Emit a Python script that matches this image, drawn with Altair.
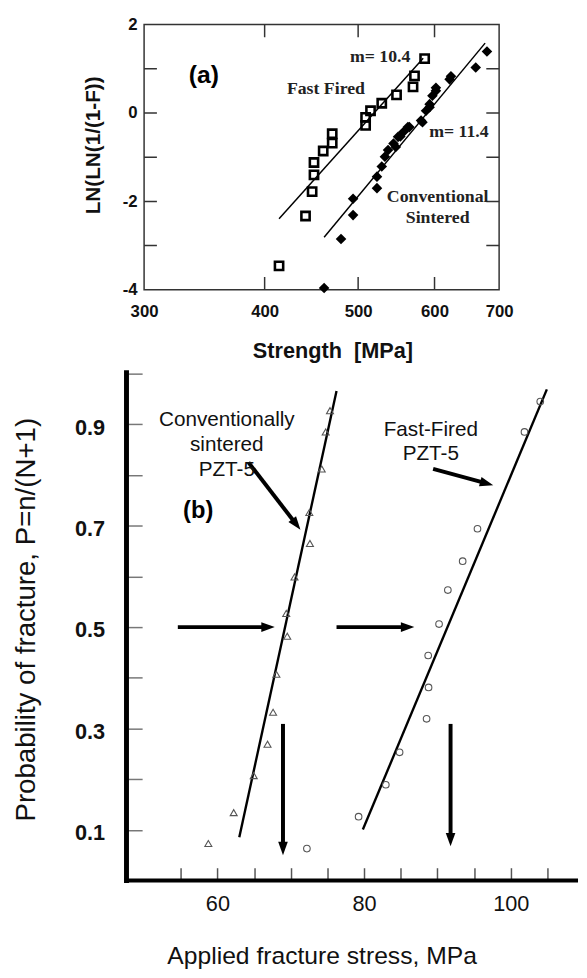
import math
import altair as alt
import pandas as pd

SANS = "Liberation Sans"
SERIF = "Liberation Serif"

# ---------------- Panel (a): Weibull plot ----------------
ff_strength = [414, 441, 448, 450, 450, 460, 470, 470, 509, 509, 515, 529, 548, 570, 572, 586]
ff_lnln = [-3.46, -2.33, -1.78, -1.40, -1.12, -0.86, -0.68, -0.47, -0.28, -0.10, 0.05, 0.22, 0.41, 0.59, 0.84, 1.23]

cs_strength = [461, 480, 494, 494, 523, 523, 529, 533, 537, 544, 547, 550, 553, 557, 563, 565,
               581, 583, 588, 593, 593, 597, 602, 602, 622, 624, 662, 680]
cs_lnln = [-3.96, -2.85, -2.31, -1.94, -1.70, -1.44, -1.21, -0.99, -0.84, -0.69, -0.77, -0.54, -0.53, -0.43,
           -0.32, -0.32, -0.17, -0.21, 0.05, 0.20, 0.13, 0.39, 0.57, 0.50, 0.76, 0.83, 1.03, 1.39]

fit_a_series = ["ff", "ff", "cs", "cs"]
fit_a_strength = [414, 584, 461, 677]
fit_a_lnln = [-2.39, 1.24, -2.81, 1.58]

a_label_text = ["m= 10.4", "Fast Fired", "m= 11.4", "Conventional\nSintered"]
a_label_s = [527, 463, 636, 604.5]
a_label_y = [1.257, 0.534, -0.431, -1.90]

a_tag_s = [346]
a_tag_y = [0.862]

a_x_values = [300, 400, 500, 600, 700]
a_y_values = [-4, -2, 0, 2]
a_xticks = [400, 500, 600]
a_yticks = [-3, -2, -1, 0, 1]
A_XDOM = [300, 700]
A_YDOM = [-4, 2]

# ---------------- Panel (b): probability plot ----------------
tri_x = [75.35, 74.76, 74.22, 72.53, 72.61, 70.51, 69.38, 69.52, 68.04, 67.59, 66.83, 64.95, 62.22, 58.76]
tri_p = [0.927, 0.885, 0.812, 0.726, 0.665, 0.599, 0.527, 0.482, 0.407, 0.332, 0.269, 0.207, 0.134, 0.073]
circ_x = [104.02, 101.87, 95.46, 93.44, 91.42, 90.22, 88.74, 88.79, 88.52, 84.84, 82.96, 79.25, 72.20]
circ_p = [0.945, 0.885, 0.694, 0.630, 0.573, 0.506, 0.444, 0.381, 0.319, 0.253, 0.189, 0.126, 0.063]

fit_b_series = ["cs", "cs", "ff", "ff"]
fit_b_x = [62.98, 76.24, 79.83, 104.92]
fit_b_p = [0.0856, 0.966, 0.1006, 0.969]

arrow_x0 = [64.23, 89.41, 54.6, 76.24, 68.94, 91.79]
arrow_p0 = [0.825, 0.812, 0.5, 0.5, 0.309, 0.309]
arrow_x1 = [71.32, 97.61, 67.82, 86.85, 68.94, 91.79]
arrow_p1 = [0.692, 0.780, 0.5, 0.5, 0.05, 0.0675]

b_label_text = ["Conventionally\nsintered\nPZT-5", "Fast-Fired\nPZT-5"]
b_label_x = [61.28, 89.1]
b_label_p = [0.908, 0.889]
b_tag_x = [57.38]
b_tag_p = [0.728]

b_x_values = [55, 60, 65, 70, 75, 80, 85, 90, 95, 100, 105]
b_y_values = [0.1, 0.2, 0.3, 0.4, 0.5, 0.6, 0.7, 0.8, 0.9, 1.0]
b_axis_x = 47.6
B_XDOM = [50, 108.9]
B_YDOM = [0.0253, 1.0]

A_W, A_H = 360, 269
B_W, B_H = 438, 501

# ======================= Panel (a) =======================
xa_scale = alt.Scale(type="log", domain=A_XDOM, nice=False, zero=False)
ya_scale = alt.Scale(domain=A_YDOM, nice=False, zero=False)

xa = alt.X("s:Q", scale=xa_scale, axis=alt.Axis(
    values=a_x_values, labelExpr="'' + datum.value", labelFlush=False, ticks=False, tickSize=0,
    domain=False, grid=False,
    labelFont=SANS, labelFontSize=17, labelFontWeight="bold", labelColor="#111", labelPadding=14,
    title="Strength\u00a0\u00a0[MPa]", titleFont=SANS, titleFontSize=22, titleFontWeight="bold",
    titleColor="#111", titleX=191, titleY=62, titleAlign="center", titleBaseline="middle"))
ya = alt.Y("y:Q", scale=ya_scale, axis=alt.Axis(
    values=a_y_values, labelExpr="'' + datum.value", labelFlush=False, ticks=False, tickSize=0,
    domain=False, grid=False,
    labelFont=SANS, labelFontSize=17, labelFontWeight="bold", labelColor="#111", labelPadding=7,
    title="LN(LN(1/(1-F))", titleFont=SANS, titleFontSize=21, titleFontWeight="bold", titleColor="#111",
    titleX=-51, titleY=122, titleAlign="center", titleBaseline="middle"))

df_ff = pd.DataFrame({"s": ff_strength, "y": ff_lnln})
df_cs = pd.DataFrame({"s": cs_strength, "y": cs_lnln})
df_fit_a = pd.DataFrame({"series": fit_a_series, "s": fit_a_strength, "y": fit_a_lnln})
df_a_lab = pd.DataFrame({"s": a_label_s, "y": a_label_y, "text": a_label_text})
df_a_tag = pd.DataFrame({"s": a_tag_s, "y": a_tag_y, "text": ["(a)"]})
df_a_vt = pd.DataFrame({"s": a_xticks * 2, "y": [A_YDOM[0]] * len(a_xticks) + [A_YDOM[1]] * len(a_xticks)})
df_a_ht = pd.DataFrame({"s": [A_XDOM[0]] * len(a_yticks) + [A_XDOM[1]] * len(a_yticks), "y": a_yticks * 2})

a_fit = alt.Chart(df_fit_a).mark_line(color="black", strokeWidth=1.5).encode(x=xa, y=ya, detail="series:N")
a_ff = alt.Chart(df_ff).mark_point(shape="square", filled=False, size=70, strokeWidth=2.6,
                                   color="black", opacity=1).encode(x=xa, y=ya)
a_cs = alt.Chart(df_cs).mark_point(shape="diamond", filled=True, size=115,
                                   color="black", opacity=1).encode(x=xa, y=ya)
a_vt = alt.Chart(df_a_vt).mark_tick(orient="vertical", size=26, thickness=1.5, color="#333",
                                    clip=True, opacity=1).encode(x=xa, y=ya)
a_ht = alt.Chart(df_a_ht).mark_tick(orient="horizontal", size=26, thickness=1.5, color="#333",
                                    clip=True, opacity=1).encode(x=xa, y=ya)
a_lab = alt.Chart(df_a_lab).mark_text(font=SERIF, fontSize=18, fontWeight="bold", color="#222",
                                      lineBreak="\n", lineHeight=21, align="center",
                                      baseline="middle").encode(x=xa, y=ya, text="text:N")
a_tag = alt.Chart(df_a_tag).mark_text(font=SANS, fontSize=25, fontWeight="bold", color="black",
                                      align="center", baseline="middle").encode(x=xa, y=ya, text="text:N")

panel_a = alt.layer(a_vt, a_ht, a_fit, a_ff, a_cs, a_lab, a_tag).properties(
    width=A_W, height=A_H, view=alt.ViewBackground(stroke="#333", strokeWidth=1.5))

# ======================= Panel (b) =======================
xb_scale = alt.Scale(domain=B_XDOM, nice=False, zero=False)
yb_scale = alt.Scale(domain=B_YDOM, nice=False, zero=False)

xb = alt.X("x:Q", scale=xb_scale, axis=alt.Axis(
    values=b_x_values, labelExpr="datum.value % 20 == 0 ? datum.label : ''", labelFlush=False,
    tickSize=13, tickWidth=1.5, tickColor="#555", domain=False, grid=False,
    labelFont=SANS, labelFontSize=22, labelColor="#111", labelPadding=13,
    title="Applied fracture stress, MPa", titleFont=SANS, titleFontSize=25, titleFontWeight="normal",
    titleColor="#111", titleX=180, titleY=89, titleAlign="center", titleBaseline="middle"))
yb = alt.Y("p:Q", scale=yb_scale, axis=alt.Axis(
    values=b_y_values, format=".1f", labelExpr="round(datum.value * 10) % 2 == 1 ? datum.label : ''",
    labelFlush=False, offset=2, tickSize=16, tickWidth=1.5, tickColor="#777", domain=False, grid=False,
    labelFont=SANS, labelFontSize=22, labelFontWeight="bold", labelColor="#111", labelPadding=22,
    labelOffset=3,
    title="Probability of fracture, P=n/(N+1)", titleFont=SANS, titleFontSize=28, titleFontWeight="normal",
    titleColor="#111", titleX=-117, titleY=249, titleAlign="center", titleBaseline="middle"))

kx = B_W / (B_XDOM[1] - B_XDOM[0])
ky = B_H / (B_YDOM[1] - B_YDOM[0])
shafts, heads = [], []
for x0, p0, x1, p1 in zip(arrow_x0, arrow_p0, arrow_x1, arrow_p1):
    sx, sy = (x1 - x0) * kx, (p1 - p0) * ky
    L = math.hypot(sx, sy)
    back = 9.0
    shafts.append({"x": x0, "p": p0, "x2": x1 - sx / L * back / kx, "p2": p1 - sy / L * back / ky})
    heads.append({"x": x1, "p": p1, "ang": (math.degrees(math.atan2(sx, sy)) + 360) % 360})
df_shafts = pd.DataFrame(shafts)
df_heads = pd.DataFrame(heads)

df_tri = pd.DataFrame({"x": tri_x, "p": tri_p})
df_circ = pd.DataFrame({"x": circ_x, "p": circ_p})
df_fit_b = pd.DataFrame({"series": fit_b_series, "x": fit_b_x, "p": fit_b_p})
df_b_lab = pd.DataFrame({"x": b_label_x, "p": b_label_p, "text": b_label_text})
df_b_tag = pd.DataFrame({"x": b_tag_x, "p": b_tag_p, "text": ["(b)"]})
df_b_axes = pd.DataFrame({"x": [b_axis_x, b_axis_x], "p": [0.0, 0.0],
                          "x2": [b_axis_x, B_XDOM[1]], "p2": [1.002, 0.0],
                          "w": [5, 4]})

b_axes = alt.Chart(df_b_axes).mark_rule(color="black", strokeCap="square").encode(
    x=xb, y=yb, x2="x2:Q", y2="p2:Q", strokeWidth=alt.StrokeWidth("w:Q", scale=None))
b_fit = alt.Chart(df_fit_b).mark_line(color="black", strokeWidth=2.4).encode(x=xb, y=yb, detail="series:N")
b_tri = alt.Chart(df_tri).mark_point(shape="triangle-up", filled=False, size=50, strokeWidth=1.1,
                                     color="#555", opacity=1).encode(x=xb, y=yb)
b_circ = alt.Chart(df_circ).mark_point(shape="circle", filled=False, size=45, strokeWidth=1.1,
                                       color="#555", opacity=1).encode(x=xb, y=yb)
b_shaft = alt.Chart(df_shafts).mark_rule(color="black", strokeWidth=4).encode(
    x=xb, y=yb, x2="x2:Q", y2="p2:Q")
b_head = alt.Chart(df_heads).mark_point(shape="M0,0L0.75,2.1L-0.75,2.1Z", filled=True, size=169,
                                        color="black", opacity=1).encode(
    x=xb, y=yb, angle=alt.Angle("ang:Q", scale=None))
b_lab = alt.Chart(df_b_lab).mark_text(font=SANS, fontSize=21, color="#111", lineBreak="\n",
                                      lineHeight=25, align="center", baseline="middle").encode(
    x=xb, y=yb, text="text:N")
b_tag = alt.Chart(df_b_tag).mark_text(font=SANS, fontSize=24, fontWeight="bold", color="black",
                                      align="center", baseline="middle").encode(x=xb, y=yb, text="text:N")

panel_b = alt.layer(b_axes, b_fit, b_tri, b_circ, b_shaft, b_head, b_lab, b_tag).properties(
    width=B_W, height=B_H, view=alt.ViewBackground(strokeOpacity=0))

chart = alt.vconcat(panel_a, panel_b, spacing=85, bounds="flush").properties(
    padding={"left": 4, "top": 0, "right": 0, "bottom": 0}
).configure(background="white")

chart.save("out.html", embed_options={"renderer": "svg", "actions": False})
